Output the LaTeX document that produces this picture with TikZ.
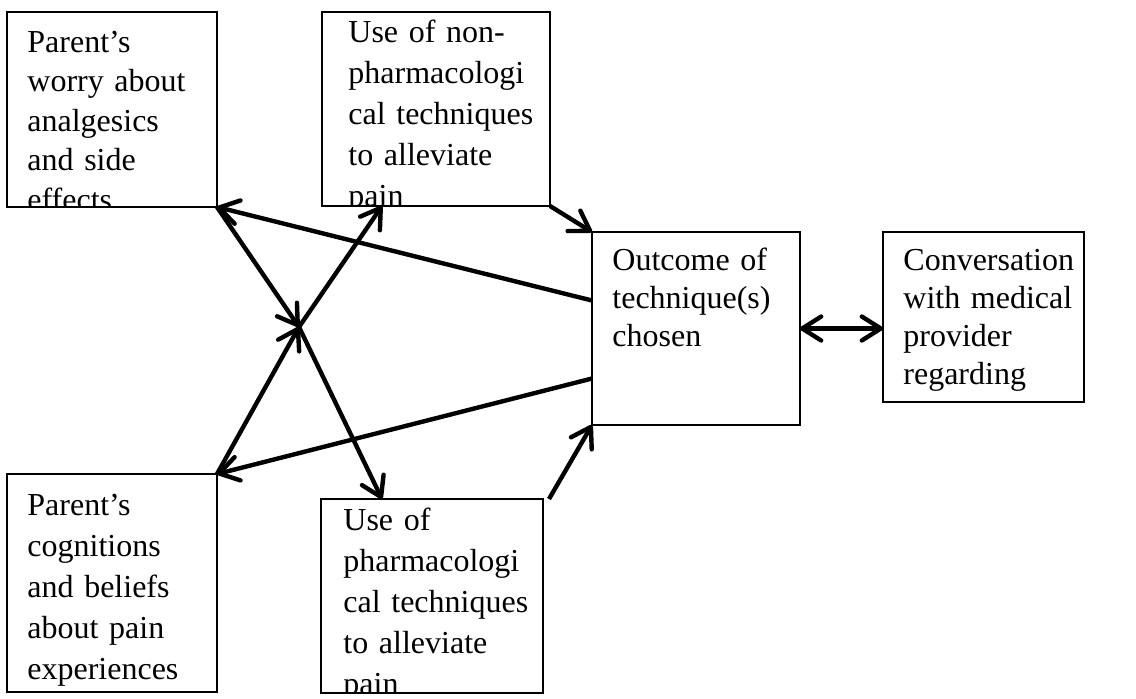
\documentclass[tikz,border=0pt]{standalone}
\usepackage{fontspec}
\setmainfont{Liberation Serif}
\usetikzlibrary{positioning}
\usetikzlibrary{arrows.meta}

\tikzset{
	box/.style={draw,line width=0.9pt,inner sep=0pt,outer sep=0pt},
	txt/.style={anchor=base west,align=left,inner sep=0pt,text width=105pt,
		font=\fontsize{16}{20.5}\selectfont},
	txs/.style={txt,font=\fontsize{16}{19}\selectfont},
	conn/.style={line width=2.2pt,-{Straight Barb[length=9.5pt,width=12pt,round]}},
	dconn/.style={line width=2.2pt,{Straight Barb[length=9.5pt,width=12pt,round]}-{Straight Barb[length=9.5pt,width=12pt,round]}}
}

\begin{document}
\begin{tikzpicture}[x=0.5pt,y=-0.5pt]
		\useasboundingbox (0,0) rectangle (1136,698);
		% boxes
		\node[box,minimum width=105pt,minimum height=97.5pt] at (112,109.5) (w1) {};
		\node[box,minimum width=114pt,minimum height=97pt] at (436,109) (t1) {};
		\node[box,minimum width=104pt,minimum height=96.5pt] at (696,328.5) (o1) {};
		\node[box,minimum width=100.5pt,minimum height=85pt] at (983.5,317) (c1) {};
		\node[box,minimum width=105pt,minimum height=109pt] at (112,583) (b1) {};
		\node[box,minimum width=111pt,minimum height=97pt] at (432,596) (t2) {};
		
		% texts (cut off at the box edge as in the original)
		\begin{scope}
			\clip ([yshift=1pt]w1.south west) rectangle (w1.north east);
			\node[txt,font=\fontsize{16}{19.75}\selectfont] at (27,52) (w1t) {Parent’s\\worry about\\analgesics\\and side\\effects};
		\end{scope}
		\begin{scope}
			\clip ([yshift=1pt]t1.south west) rectangle (t1.north east);
			\node[txt] at (348,42) (t1t) {Use of non-\\pharmacologi\\cal techniques\\to alleviate\\pain};
		\end{scope}
		\node[txs] at (612,270) (o1t) {Outcome of\\technique(s)\\chosen};
		\node[txs] at (903,270) (c1t) {Conversation\\with medical\\provider\\regarding};
		\node[txt] at (27,515) (b1t) {Parent’s\\cognitions\\and beliefs\\about pain\\experiences};
		\begin{scope}
			\clip ([yshift=1pt]t2.south west) rectangle (t2.north east);
			\node[txt] at (343,530) (t2t) {Use of\\pharmacologi\\cal techniques\\to alleviate\\pain};
		\end{scope}
		
		% arrows
		\coordinate (x) at (299,327);
		\draw [conn] (w1.south east) -- (x);
		\draw [conn] (b1.north east) -- (x);
		\draw [conn] (x) -- ([xshift=-27pt]t1.south);
		\draw [conn] (x) -- ([xshift=-25pt]t2.north);
		\draw [conn] ([yshift=14pt]o1.west) -- (w1.south east);
		\draw [conn] ([yshift=-25pt]o1.west) -- (b1.north east);
		\draw [conn] (t1.south east) -- (o1.north west);
		\draw [conn] ([xshift=3pt]t2.north east) -- (o1.south west);
		\draw [dconn] (o1.east) -- (o1.east -| c1.west);
	\end{tikzpicture}
\end{document}
